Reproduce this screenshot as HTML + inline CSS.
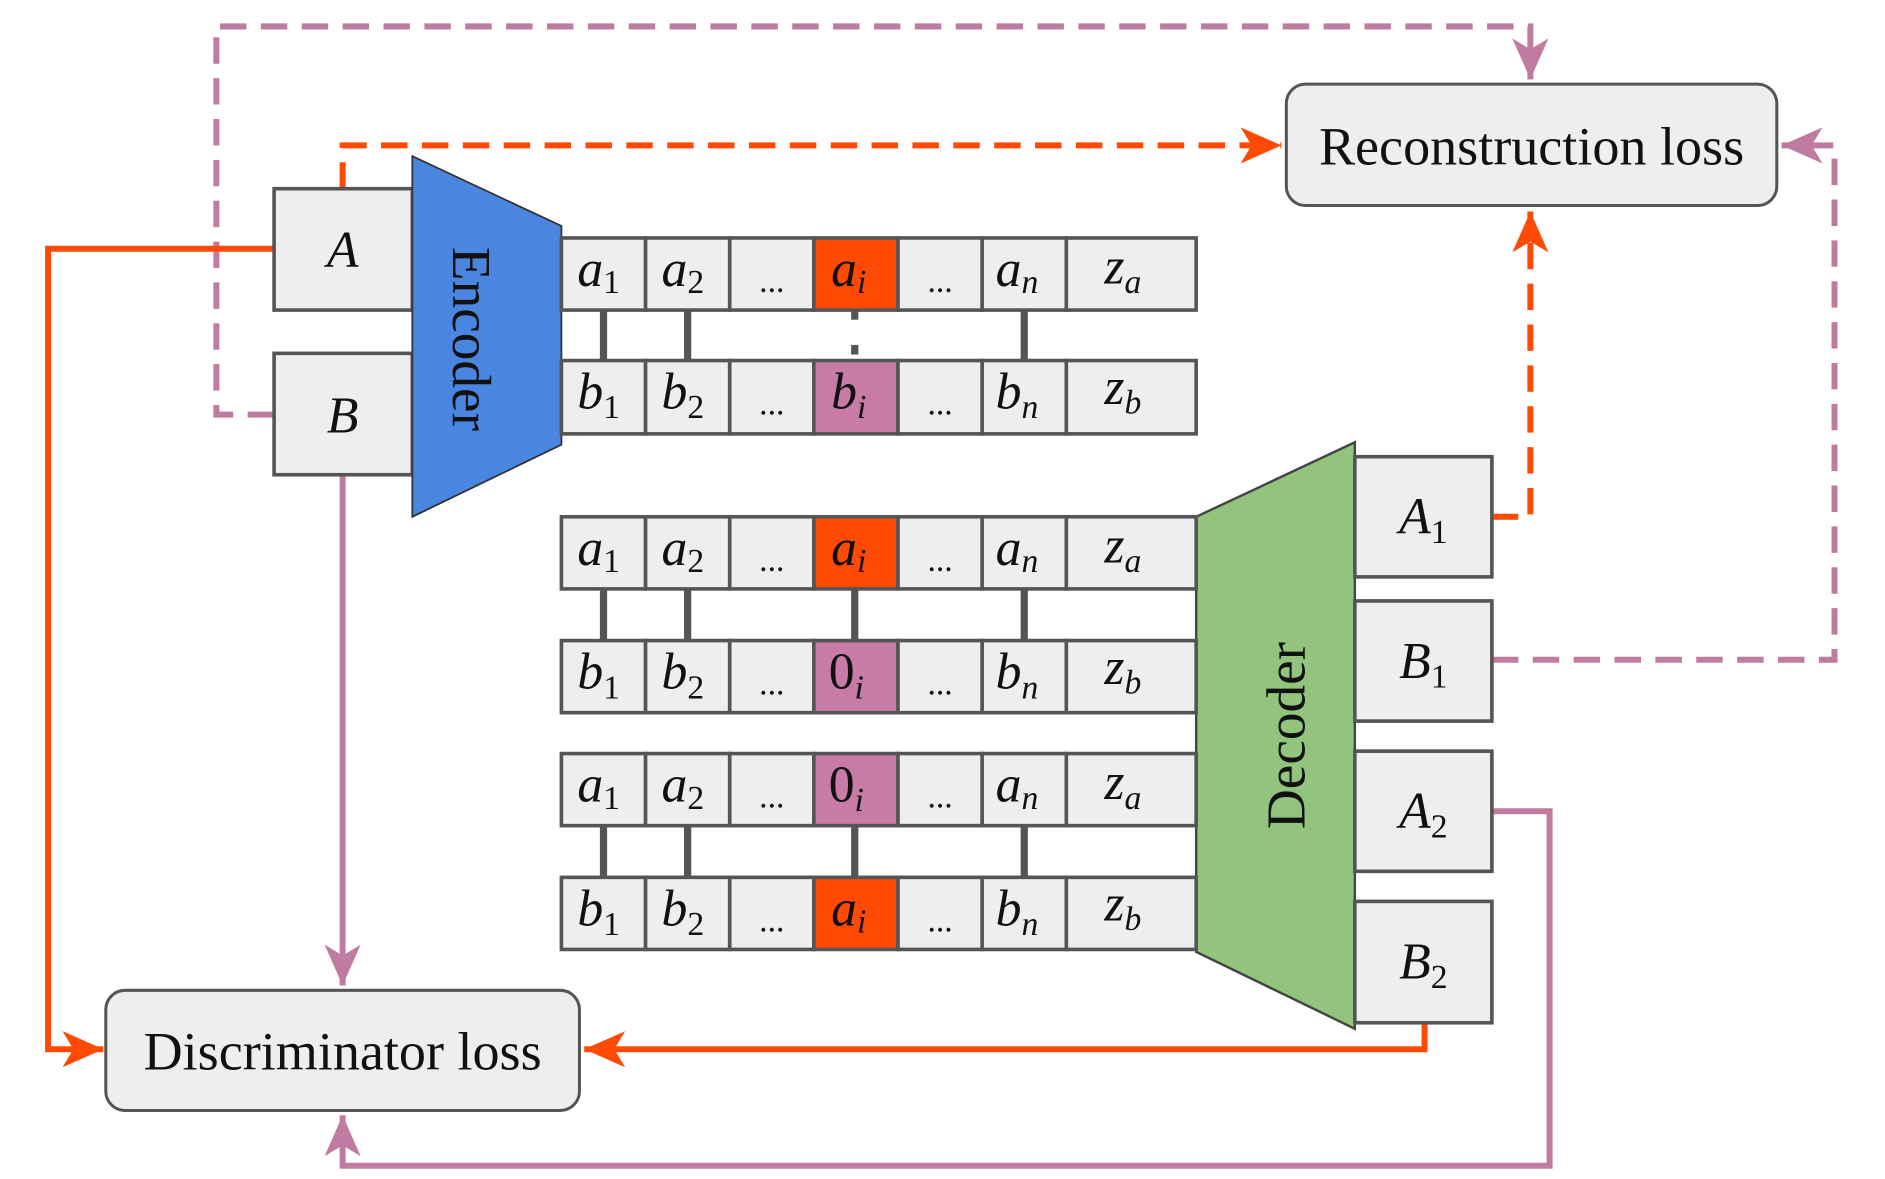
<!DOCTYPE html>
<html><head><meta charset="utf-8"><style>
html,body{margin:0;padding:0;background:#fff;}
svg{display:block;font-family:"Liberation Serif","DejaVu Serif",serif;}
text{font-family:"Liberation Serif","DejaVu Serif",serif;fill:#111;}
.m{font-style:italic;font-size:43px;text-anchor:middle;}
.s{font-size:28px;font-style:normal;}
.si{font-size:28px;font-style:italic;}
.d{font-size:28px;text-anchor:middle;}
.cell{fill:#eeeeee;stroke:#555;stroke-width:3;}
.or{fill:#ff4a06;stroke:#555;stroke-width:3;}
.pu{fill:#c77ba6;stroke:#555;stroke-width:3;}
.con{stroke:#555;stroke-width:6;}
</style></head><body>
<svg width="1885" height="1179" viewBox="0 0 1568 981" preserveAspectRatio="none" xmlns="http://www.w3.org/2000/svg" font-family="Liberation Serif, serif">
<defs>
<marker id="ao" markerUnits="userSpaceOnUse" markerWidth="40" markerHeight="40" refX="34" refY="15" orient="auto"><path d="M0,0 L34,15 L0,30 L9,15 Z" fill="#ff4a06"/></marker>
<marker id="ap" markerUnits="userSpaceOnUse" markerWidth="40" markerHeight="40" refX="34" refY="15" orient="auto"><path d="M0,0 L34,15 L0,30 L9,15 Z" fill="#c07ba0"/></marker>
</defs>

<g fill="none" stroke-width="5">
<path d="M228,345 H180 V22 H1273 V66" stroke="#c07ba0" stroke-dasharray="22,12" marker-end="url(#ap)"/>
<path d="M285,157 V121 H1066" stroke="#ff4a06" stroke-dasharray="22,12" marker-end="url(#ao)"/>
<path d="M1241,430 H1273 V176" stroke="#ff4a06" stroke-dasharray="22,12" marker-end="url(#ao)"/>
<path d="M1241,549 H1526 V121 H1482" stroke="#c07ba0" stroke-dasharray="22,12" marker-end="url(#ap)"/>
<path d="M1241,675 H1289 V970 H285 V928" stroke="#c07ba0" marker-end="url(#ap)"/>
<path d="M1185,851 V873 H486" stroke="#ff4a06" marker-end="url(#ao)"/>
<path d="M228,207 H40 V873 H86" stroke="#ff4a06" marker-end="url(#ao)"/>
<path d="M285,395 V820" stroke="#c07ba0" marker-end="url(#ap)"/>
</g>

<rect x="1070" y="70" width="408" height="101" rx="16" fill="#eeeeee" stroke="#555" stroke-width="2.5"/>
<text x="1274" y="137" font-size="45" text-anchor="middle">Reconstruction loss</text>
<rect x="88" y="824" width="394" height="100" rx="16" fill="#eeeeee" stroke="#555" stroke-width="2.5"/>
<text x="285" y="890" font-size="45" text-anchor="middle">Discriminator loss</text>

<rect x="228" y="157" width="115" height="101" class="cell"/>
<text x="285" y="222" class="m">A</text>
<rect x="228" y="294" width="115" height="101" class="cell"/>
<text x="285" y="360" class="m">B</text>

<polygon points="343,130 467,188 467,370 343,430" fill="#4a86e0" stroke="#333" stroke-width="1.5"/>
<text transform="translate(377,282) rotate(90)" font-size="46" text-anchor="middle">Encoder</text>

<polygon points="995,430 1127,368 1127,856 995,792" fill="#93c47d" stroke="#444" stroke-width="2"/>
<text transform="translate(1085,612) rotate(-90)" font-size="46" text-anchor="middle">Decoder</text>

<rect x="1127" y="380" width="114" height="100" class="cell"/>
<text x="1184" y="444" class="m">A<tspan class="s" dy="8">1</tspan></text>
<rect x="1127" y="500" width="114" height="100" class="cell"/>
<text x="1184" y="564" class="m">B<tspan class="s" dy="8">1</tspan></text>
<rect x="1127" y="625" width="114" height="100" class="cell"/>
<text x="1184" y="689" class="m">A<tspan class="s" dy="8">2</tspan></text>
<rect x="1127" y="750" width="114" height="101" class="cell"/>
<text x="1184" y="814" class="m">B<tspan class="s" dy="8">2</tspan></text>

<g class="con">
<line x1="502" y1="258" x2="502" y2="300"/><line x1="572" y1="258" x2="572" y2="300"/><line x1="852" y1="258" x2="852" y2="300"/>
<line x1="502" y1="490" x2="502" y2="533"/><line x1="572" y1="490" x2="572" y2="533"/><line x1="711" y1="490" x2="711" y2="533"/><line x1="852" y1="490" x2="852" y2="533"/>
<line x1="502" y1="687" x2="502" y2="730"/><line x1="572" y1="687" x2="572" y2="730"/><line x1="711" y1="687" x2="711" y2="730"/><line x1="852" y1="687" x2="852" y2="730"/>
</g>
<rect x="708" y="258" width="6" height="8" fill="#555"/>
<rect x="708" y="287" width="6" height="8" fill="#555"/>

<g>
<rect x="467" y="198" width="70" height="60" class="cell"/><rect x="537" y="198" width="70" height="60" class="cell"/><rect x="607" y="198" width="70" height="60" class="cell"/><rect x="677" y="198" width="70" height="60" class="or"/><rect x="747" y="198" width="70" height="60" class="cell"/><rect x="817" y="198" width="70" height="60" class="cell"/><rect x="887" y="198" width="108" height="60" class="cell"/>
<text y="238" class="m"><tspan x="498">a</tspan><tspan class="s" dy="6">1</tspan></text>
<text y="238" class="m"><tspan x="568">a</tspan><tspan class="s" dy="6">2</tspan></text>
<text x="642" y="243" class="d">...</text>
<text y="238" class="m"><tspan x="706">a</tspan><tspan class="si" dy="6">i</tspan></text>
<text x="782" y="243" class="d">...</text>
<text y="238" class="m"><tspan x="846">a</tspan><tspan class="si" dy="6">n</tspan></text>
<text y="236" class="m"><tspan x="934">z</tspan><tspan class="si" dy="8">a</tspan></text>
</g>
<g>
<rect x="467" y="300" width="70" height="61" class="cell"/><rect x="537" y="300" width="70" height="61" class="cell"/><rect x="607" y="300" width="70" height="61" class="cell"/><rect x="677" y="300" width="70" height="61" class="pu"/><rect x="747" y="300" width="70" height="61" class="cell"/><rect x="817" y="300" width="70" height="61" class="cell"/><rect x="887" y="300" width="108" height="61" class="cell"/>
<text y="340" class="m"><tspan x="498">b</tspan><tspan class="s" dy="8">1</tspan></text>
<text y="340" class="m"><tspan x="568">b</tspan><tspan class="s" dy="8">2</tspan></text>
<text x="642" y="345" class="d">...</text>
<text y="340" class="m"><tspan x="706">b</tspan><tspan class="si" dy="8">i</tspan></text>
<text x="782" y="345" class="d">...</text>
<text y="340" class="m"><tspan x="846">b</tspan><tspan class="si" dy="8">n</tspan></text>
<text y="336" class="m"><tspan x="934">z</tspan><tspan class="si" dy="8">b</tspan></text>
</g>
<g>
<rect x="467" y="430" width="70" height="60" class="cell"/><rect x="537" y="430" width="70" height="60" class="cell"/><rect x="607" y="430" width="70" height="60" class="cell"/><rect x="677" y="430" width="70" height="60" class="or"/><rect x="747" y="430" width="70" height="60" class="cell"/><rect x="817" y="430" width="70" height="60" class="cell"/><rect x="887" y="430" width="108" height="60" class="cell"/>
<text y="470" class="m"><tspan x="498">a</tspan><tspan class="s" dy="6">1</tspan></text>
<text y="470" class="m"><tspan x="568">a</tspan><tspan class="s" dy="6">2</tspan></text>
<text x="642" y="475" class="d">...</text>
<text y="470" class="m"><tspan x="706">a</tspan><tspan class="si" dy="6">i</tspan></text>
<text x="782" y="475" class="d">...</text>
<text y="470" class="m"><tspan x="846">a</tspan><tspan class="si" dy="6">n</tspan></text>
<text y="468" class="m"><tspan x="934">z</tspan><tspan class="si" dy="8">a</tspan></text>
</g>
<g>
<rect x="467" y="533" width="70" height="60" class="cell"/><rect x="537" y="533" width="70" height="60" class="cell"/><rect x="607" y="533" width="70" height="60" class="cell"/><rect x="677" y="533" width="70" height="60" class="pu"/><rect x="747" y="533" width="70" height="60" class="cell"/><rect x="817" y="533" width="70" height="60" class="cell"/><rect x="887" y="533" width="108" height="60" class="cell"/>
<text y="573" class="m"><tspan x="498">b</tspan><tspan class="s" dy="8">1</tspan></text>
<text y="573" class="m"><tspan x="568">b</tspan><tspan class="s" dy="8">2</tspan></text>
<text x="642" y="578" class="d">...</text>
<text y="573" class="m"><tspan x="704" font-style="normal">0</tspan><tspan class="si" dy="8">i</tspan></text>
<text x="782" y="578" class="d">...</text>
<text y="573" class="m"><tspan x="846">b</tspan><tspan class="si" dy="8">n</tspan></text>
<text y="569" class="m"><tspan x="934">z</tspan><tspan class="si" dy="8">b</tspan></text>
</g>
<g>
<rect x="467" y="627" width="70" height="60" class="cell"/><rect x="537" y="627" width="70" height="60" class="cell"/><rect x="607" y="627" width="70" height="60" class="cell"/><rect x="677" y="627" width="70" height="60" class="pu"/><rect x="747" y="627" width="70" height="60" class="cell"/><rect x="817" y="627" width="70" height="60" class="cell"/><rect x="887" y="627" width="108" height="60" class="cell"/>
<text y="667" class="m"><tspan x="498">a</tspan><tspan class="s" dy="6">1</tspan></text>
<text y="667" class="m"><tspan x="568">a</tspan><tspan class="s" dy="6">2</tspan></text>
<text x="642" y="672" class="d">...</text>
<text y="667" class="m"><tspan x="704" font-style="normal">0</tspan><tspan class="si" dy="8">i</tspan></text>
<text x="782" y="672" class="d">...</text>
<text y="667" class="m"><tspan x="846">a</tspan><tspan class="si" dy="6">n</tspan></text>
<text y="665" class="m"><tspan x="934">z</tspan><tspan class="si" dy="8">a</tspan></text>
</g>
<g>
<rect x="467" y="730" width="70" height="60" class="cell"/><rect x="537" y="730" width="70" height="60" class="cell"/><rect x="607" y="730" width="70" height="60" class="cell"/><rect x="677" y="730" width="70" height="60" class="or"/><rect x="747" y="730" width="70" height="60" class="cell"/><rect x="817" y="730" width="70" height="60" class="cell"/><rect x="887" y="730" width="108" height="60" class="cell"/>
<text y="770" class="m"><tspan x="498">b</tspan><tspan class="s" dy="8">1</tspan></text>
<text y="770" class="m"><tspan x="568">b</tspan><tspan class="s" dy="8">2</tspan></text>
<text x="642" y="775" class="d">...</text>
<text y="770" class="m"><tspan x="706">a</tspan><tspan class="si" dy="6">i</tspan></text>
<text x="782" y="775" class="d">...</text>
<text y="770" class="m"><tspan x="846">b</tspan><tspan class="si" dy="8">n</tspan></text>
<text y="766" class="m"><tspan x="934">z</tspan><tspan class="si" dy="8">b</tspan></text>
</g>
</svg>
</body></html>
